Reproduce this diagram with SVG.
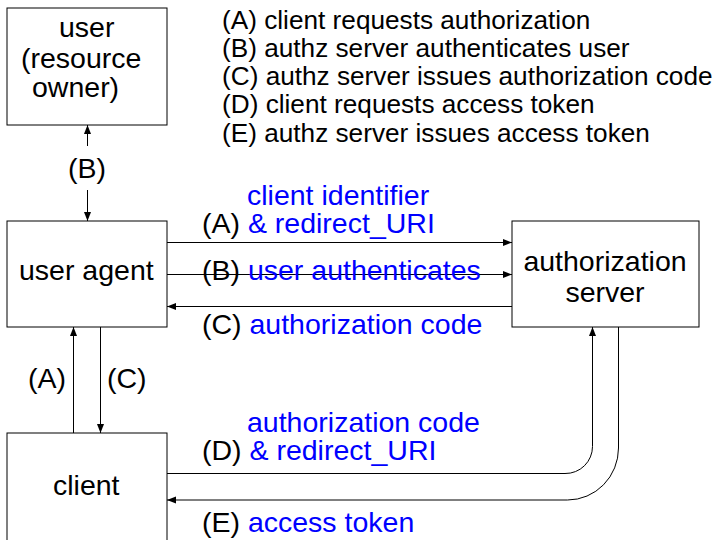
<svg xmlns="http://www.w3.org/2000/svg" width="721" height="540" viewBox="0 0 721 540">
  <style>
    .box { fill: #ffffff; stroke: #000000; stroke-width: 1; }
    .t { font-family: "Liberation Sans", Arial, Helvetica, sans-serif; font-size: 28.5px; fill: #000000; }
    .leg { font-family: "Liberation Sans", Arial, Helvetica, sans-serif; font-size: 26.2px; fill: #000000; }
    .b { fill: #0000ff; }
    .c { fill: none; stroke: #000000; stroke-width: 1; }
  </style>
  <defs>
    <marker id="ah" markerUnits="userSpaceOnUse" markerWidth="10" markerHeight="8" refX="9" refY="3.5" orient="auto">
      <path d="M0,0 L9,3.5 L0,7 z" fill="#000000"/>
    </marker>
  </defs>
  <rect width="721" height="540" fill="#ffffff"/>

  <!-- legend -->
  <g id="legend" class="leg">
    <text x="222" y="28.5">(A) client requests authorization</text>
    <text x="222" y="56.8">(B) authz server authenticates user</text>
    <text x="222" y="85">(C) authz server issues authorization code</text>
    <text x="222" y="113.3">(D) client requests access token</text>
    <text x="222" y="141.7">(E) authz server issues access token</text>
  </g>

  <!-- nodes -->
  <g id="user">
    <rect class="box" x="7" y="8" width="160" height="117"/>
    <text class="t" x="59" y="37">user</text>
    <text class="t" x="21" y="68">(resource</text>
    <text class="t" x="32" y="97">owner)</text>
  </g>
  <g id="user-agent">
    <rect class="box" x="7" y="221" width="160" height="106"/>
    <text class="t" x="19" y="280">user agent</text>
  </g>
  <g id="authorization-server">
    <rect class="box" x="512" y="221" width="187" height="106"/>
    <text class="t" x="605" y="271" text-anchor="middle">authorization</text>
    <text class="t" x="605" y="302" text-anchor="middle">server</text>
  </g>
  <g id="client">
    <rect class="box" x="7" y="433" width="160" height="130"/>
    <text class="t" x="53" y="495">client</text>
  </g>

  <!-- connectors -->
  <g id="connectors">
    <path class="c" d="M87.5,146 V125" marker-end="url(#ah)"/>
    <path class="c" d="M87.5,190 V221" marker-end="url(#ah)"/>
    <path class="c" d="M167,242.5 H512" marker-end="url(#ah)"/>
    <path class="c" d="M167,274.5 H512" marker-end="url(#ah)"/>
    <path class="c" d="M512,306.5 H167" marker-end="url(#ah)"/>
    <path class="c" d="M73.5,433 V327" marker-end="url(#ah)"/>
    <path class="c" d="M100.5,327 V433" marker-end="url(#ah)"/>
    <path class="c" d="M167,473.5 H565 A27,27 0 0 0 592.5,446.5 V327" marker-end="url(#ah)"/>
    <path class="c" d="M618.5,327 V448 A51,52 0 0 1 567.5,500 H167" marker-end="url(#ah)"/>
  </g>

  <!-- connector labels -->
  <g id="labels" class="t">
    <text x="68" y="177.5">(B)</text>
    <text x="247" y="205" class="b">client identifier</text>
    <text x="202" y="233">(A) <tspan class="b">&amp; redirect_URI</tspan></text>
    <text x="202" y="280">(B) <tspan class="b">user authenticates</tspan></text>
    <text x="202" y="334">(C) <tspan class="b">authorization code</tspan></text>
    <text x="28" y="388">(A)</text>
    <text x="107" y="388">(C)</text>
    <text x="247" y="432" class="b">authorization code</text>
    <text x="202" y="460">(D) <tspan class="b">&amp; redirect_URI</tspan></text>
    <text x="202" y="532">(E) <tspan class="b">access token</tspan></text>
  </g>
</svg>
